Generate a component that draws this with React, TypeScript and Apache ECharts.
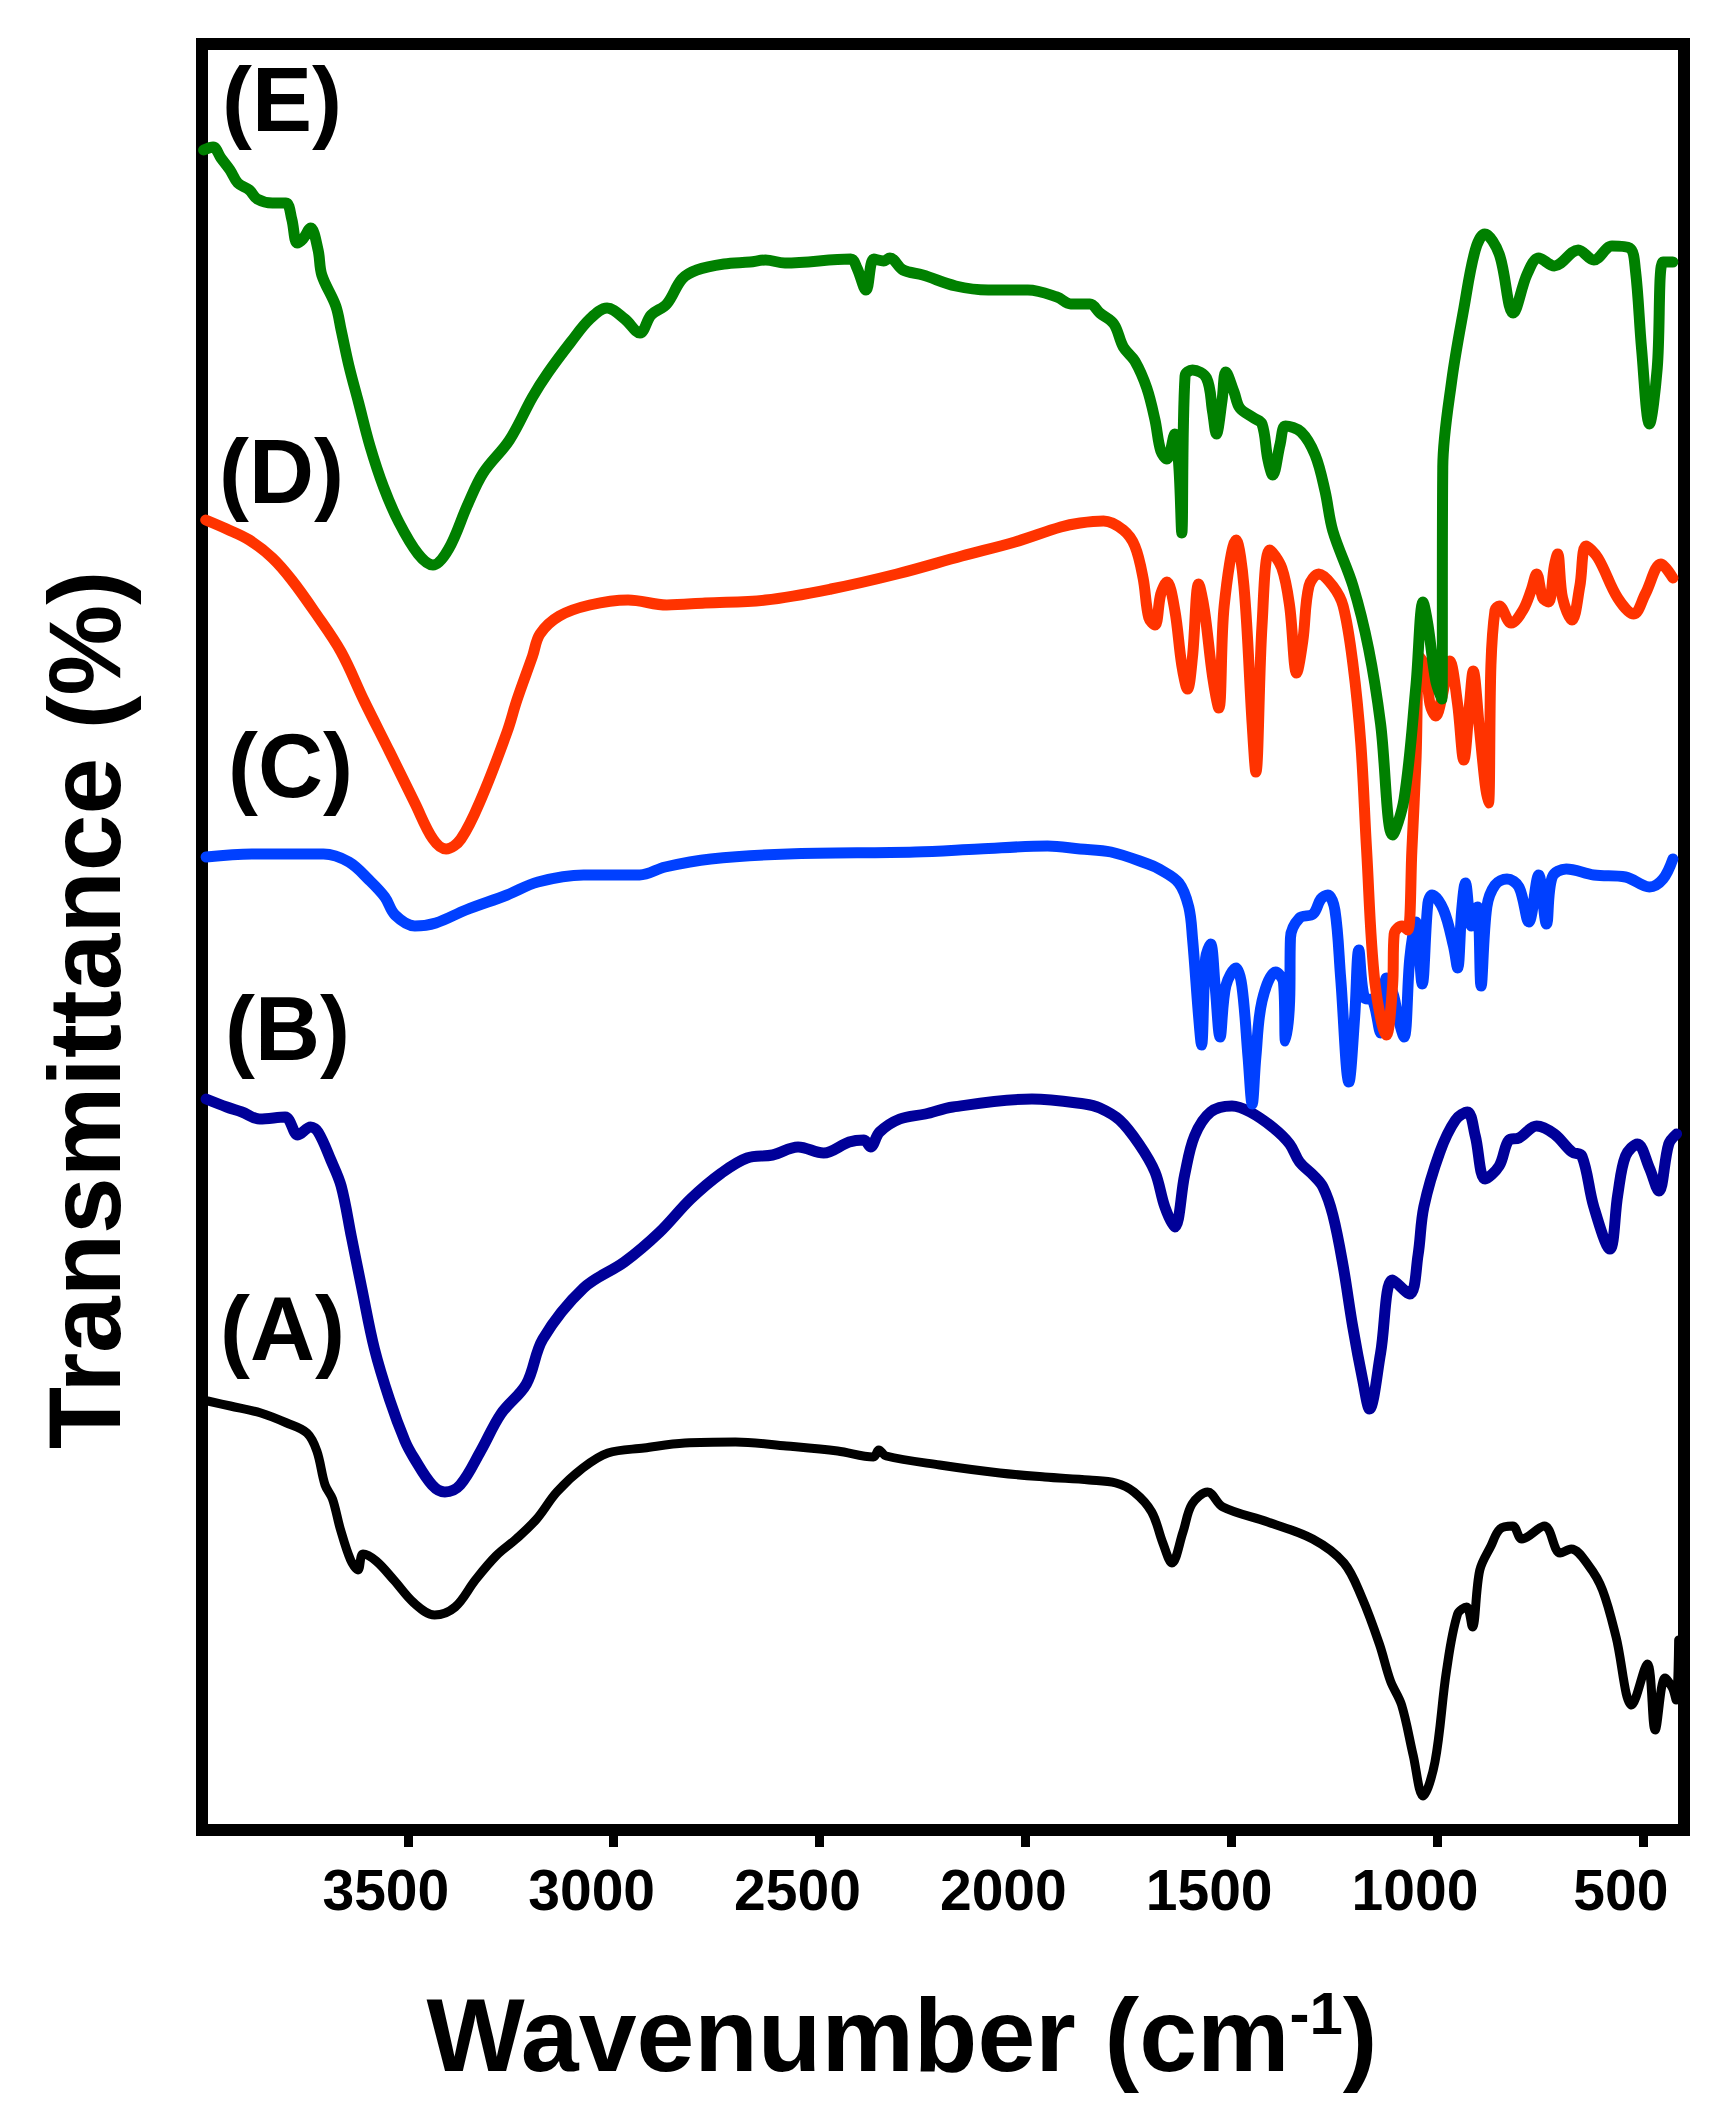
import React, { useEffect, useRef } from "react";
import * as echarts from "echarts";

// Wavenumber axis ticks (cm-1)
const X_TICKS = [3500, 3000, 2500, 2000, 1500, 1000, 500];
const CURVE_LABELS = ["(A)", "(B)", "(C)", "(D)", "(E)"];

// [wavenumber, transmittance (a.u., stacked offset)]
const SPEC_A: [number, number][] = [
  [3986, 429], [3931, 424], [3857, 417], [3794, 407], [3745, 397], [3721, 379], [3701, 345],
  [3683, 331], [3664, 301], [3639, 270], [3621, 260], [3609, 276], [3577, 269], [3534, 250],
  [3485, 227], [3435, 215], [3385, 223], [3336, 250], [3286, 274], [3237, 291], [3187, 311],
  [3138, 338], [3075, 362], [3014, 377], [2926, 382], [2827, 387], [2704, 388], [2580, 384],
  [2456, 379], [2369, 373], [2356, 380], [2338, 374], [2208, 365], [2062, 357], [1953, 353],
  [1845, 350], [1780, 347], [1736, 338], [1693, 318], [1666, 287], [1644, 267], [1617, 298],
  [1595, 326], [1557, 338], [1520, 323], [1411, 308], [1302, 291], [1226, 267], [1183, 233],
  [1140, 186], [1113, 149], [1086, 125], [1058, 75], [1034, 34], [1005, 68], [977, 159],
  [950, 216], [928, 223], [914, 203], [896, 260], [869, 284], [847, 301], [816, 304], [794, 291],
  [739, 304], [701, 277], [674, 281], [631, 264], [598, 240], [565, 193], [527, 125], [489, 166],
  [470, 100], [446, 152], [428, 142], [419, 130], [413, 190],
];

const SPEC_B: [number, number][] = [
  [3990, 731], [3940, 723], [3903, 718], [3860, 711], [3798, 713], [3767, 695], [3736, 703],
  [3718, 698], [3687, 670], [3662, 644], [3637, 593], [3612, 542], [3581, 481], [3544, 430],
  [3507, 389], [3485, 372], [3441, 345], [3410, 338], [3373, 345], [3323, 379], [3274, 416],
  [3212, 446], [3172, 491], [3073, 542], [2974, 568], [2888, 598], [2813, 631], [2738, 657],
  [2676, 672], [2614, 675], [2552, 683], [2490, 677], [2428, 688], [2392, 690], [2376, 683],
  [2354, 698], [2305, 711], [2243, 716], [2176, 723], [1984, 731], [1856, 726], [1819, 722],
  [1771, 710], [1724, 686], [1685, 658], [1661, 623], [1637, 603], [1613, 655], [1589, 694],
  [1550, 718], [1498, 724], [1454, 718], [1397, 702], [1358, 686], [1334, 668], [1301, 655],
  [1277, 643], [1253, 615], [1228, 564], [1205, 504], [1180, 449], [1164, 421], [1137, 477],
  [1108, 550], [1066, 536], [1046, 575], [1032, 623], [993, 678], [955, 710], [926, 718],
  [907, 694], [883, 651], [849, 664], [825, 690], [801, 692], [758, 704], [715, 696], [672, 678],
  [648, 674], [619, 623], [580, 581], [561, 635], [542, 674], [513, 686], [484, 662], [461, 639],
  [437, 686], [418, 696],
];

const SPEC_C: [number, number][] = [
  [3990, 973], [3879, 976], [3705, 976], [3643, 968], [3594, 950], [3556, 933], [3531, 915],
  [3483, 904], [3432, 907], [3359, 920], [3259, 935], [3184, 948], [3073, 955], [2937, 955],
  [2875, 963], [2764, 971], [2577, 976], [2268, 978], [2113, 981], [1946, 984], [1867, 981],
  [1792, 978], [1702, 966], [1675, 961], [1627, 947], [1603, 923], [1594, 892], [1579, 813],
  [1572, 785], [1562, 872], [1550, 886], [1539, 844], [1527, 793], [1513, 844], [1488, 862],
  [1474, 844], [1459, 773], [1449, 726], [1440, 773], [1425, 829], [1392, 858], [1373, 848],
  [1368, 789], [1358, 829], [1356, 892], [1334, 912], [1301, 916], [1282, 931], [1265, 935],
  [1248, 920], [1234, 852], [1214, 748], [1200, 813], [1190, 880], [1176, 832], [1157, 830],
  [1137, 797], [1123, 852], [1105, 834], [1095, 813], [1080, 793], [1066, 872], [1051, 908],
  [1036, 846], [1022, 927], [1012, 935], [984, 920], [960, 884], [950, 862], [940, 920],
  [931, 947], [916, 904], [902, 923], [893, 844], [879, 923], [859, 945], [830, 951], [801, 943],
  [777, 908], [753, 955], [734, 906], [720, 953], [686, 961], [619, 955], [542, 953], [484, 943],
  [451, 951], [427, 971],
];

const SPEC_D: [number, number][] = [
  [3991, 1310], [3940, 1301], [3885, 1290], [3829, 1272], [3782, 1250], [3726, 1218],
  [3662, 1178], [3606, 1129], [3544, 1078], [3483, 1027], [3439, 991], [3407, 981], [3371, 991],
  [3321, 1032], [3259, 1098], [3235, 1130], [3197, 1174], [3179, 1196], [3132, 1214],
  [3058, 1225], [2965, 1230], [2871, 1225], [2778, 1227], [2631, 1230], [2472, 1241],
  [2312, 1256], [2154, 1274], [2025, 1288], [1914, 1303], [1867, 1307], [1810, 1309],
  [1762, 1300], [1734, 1284], [1714, 1252], [1700, 1212], [1685, 1205], [1671, 1236],
  [1656, 1248], [1637, 1220], [1620, 1165], [1606, 1141], [1594, 1173], [1579, 1246],
  [1565, 1220], [1545, 1153], [1530, 1122], [1517, 1224], [1488, 1290], [1469, 1244],
  [1449, 1106], [1440, 1058], [1425, 1205], [1406, 1280], [1377, 1262], [1358, 1224],
  [1341, 1157], [1326, 1189], [1311, 1244], [1287, 1256], [1253, 1244], [1228, 1224],
  [1204, 1165], [1185, 1086], [1171, 980], [1151, 848], [1123, 795], [1108, 844], [1104, 896],
  [1085, 904], [1071, 900], [1061, 980], [1051, 1070], [1042, 1173], [1027, 1161], [1017, 1126],
  [1003, 1114], [988, 1133], [969, 1169], [950, 1126], [935, 1070], [921, 1126], [912, 1159],
  [898, 1106], [883, 1046], [875, 1027], [869, 1165], [859, 1220], [849, 1224], [820, 1207],
  [791, 1220], [771, 1240], [758, 1256], [743, 1232], [729, 1228], [715, 1264], [707, 1276],
  [695, 1232], [672, 1210], [653, 1244], [638, 1284], [609, 1272], [561, 1232], [522, 1216],
  [494, 1236], [456, 1266], [427, 1252],
];

const SPEC_E: [number, number][] = [
  [3996, 1680], [3973, 1683], [3954, 1672], [3932, 1660], [3913, 1647], [3885, 1640],
  [3866, 1631], [3829, 1627], [3796, 1627], [3782, 1611], [3769, 1587], [3755, 1591],
  [3736, 1602], [3718, 1580], [3709, 1555], [3675, 1524], [3662, 1500], [3643, 1464],
  [3620, 1428], [3592, 1384], [3559, 1343], [3522, 1308], [3475, 1276], [3439, 1265],
  [3401, 1281], [3355, 1325], [3317, 1357], [3253, 1390], [3197, 1433], [3160, 1457],
  [3104, 1488], [3058, 1511], [3016, 1522], [2973, 1511], [2936, 1497], [2909, 1515],
  [2871, 1526], [2834, 1551], [2798, 1560], [2732, 1566], [2669, 1568], [2631, 1570],
  [2584, 1567], [2424, 1571], [2409, 1562], [2387, 1540], [2368, 1571], [2344, 1569],
  [2329, 1572], [2297, 1560], [2249, 1555], [2169, 1544], [2090, 1540], [1994, 1540],
  [1923, 1533], [1890, 1526], [1843, 1526], [1819, 1517], [1785, 1506], [1762, 1483],
  [1734, 1469], [1705, 1442], [1685, 1410], [1671, 1379], [1656, 1371], [1637, 1396],
  [1627, 1363], [1620, 1297], [1612, 1454], [1594, 1460], [1560, 1452], [1545, 1418],
  [1536, 1396], [1522, 1430], [1513, 1458], [1493, 1438], [1479, 1422], [1445, 1412],
  [1425, 1406], [1411, 1371], [1399, 1355], [1381, 1386], [1368, 1404], [1330, 1398],
  [1296, 1375], [1272, 1339], [1253, 1299], [1204, 1244], [1166, 1181], [1137, 1106],
  [1108, 995], [1080, 1031], [1051, 1145], [1034, 1228], [1022, 1205], [1003, 1149],
  [988, 1131], [986, 1363], [964, 1450], [935, 1521], [907, 1580], [884, 1596], [849, 1576],
  [815, 1517], [781, 1556], [753, 1572], [715, 1564], [657, 1580], [619, 1570], [575, 1584],
  [532, 1582], [518, 1560], [503, 1481], [484, 1406], [465, 1462], [451, 1568], [427, 1568],
];

const FONT = '"Liberation Sans", Arial, Helvetica, sans-serif';

export default function App() {
  const ref = useRef<HTMLDivElement>(null);

  useEffect(() => {
    if (!ref.current) return;
    const chart = echarts.init(ref.current, null, { renderer: "svg" });

    const mk = (name: string, data: [number, number][], color: string, width: number, z: number) => ({
      type: "line",
      name,
      data,
      symbol: "none",
      showSymbol: false,
      smooth: 0.35,
      z,
      lineStyle: { color, width, cap: "round", join: "round" },
      emphasis: { disabled: true },
    });

    const labelPos = [
      { x: 212, y: 1321 },
      { x: 217, y: 1021 },
      { x: 220, y: 758 },
      { x: 211, y: 464 },
      { x: 214, y: 92 },
    ];

    chart.setOption({
      animation: false,
      backgroundColor: "#fff",
      grid: {
        left: 194,
        top: 36,
        right: 36,
        bottom: 283,
        show: true,
        borderColor: "#000",
        borderWidth: 12,
        backgroundColor: "transparent",
        containLabel: false,
      },
      xAxis: {
        type: "value",
        min: 400,
        max: 4000,
        inverse: true,
        axisLine: { show: true, lineStyle: { color: "#000", width: 12 } },
        axisTick: {
          show: true,
          customValues: X_TICKS,
          length: 17,
          lineStyle: { color: "#000", width: 9 },
        },
        axisLabel: {
          show: true,
          customValues: X_TICKS,
          formatter: (v: number) => String(v),
          margin: 31,
          color: "#000",
          fontSize: 57,
          fontWeight: "bold",
          fontFamily: FONT,
          padding: [0, 44, 0, 0],
        },
        splitLine: { show: false },
      },
      yAxis: {
        type: "value",
        min: 0,
        max: 1786,
        show: false,
        splitLine: { show: false },
      },
      series: [
        mk("A", SPEC_A, "#000000", 9, 2),
        mk("B", SPEC_B, "#000099", 11, 3),
        mk("C", SPEC_C, "#0040ff", 11, 4),
        mk("D", SPEC_D, "#ff3300", 11, 5),
        mk("E", SPEC_E, "#008000", 11, 6),
      ],
      graphic: [
        ...CURVE_LABELS.map((t, i) => ({
          type: "text",
          x: labelPos[i].x,
          y: labelPos[i].y,
          z: 10,
          style: {
            text: t,
            fontSize: 90,
            fontWeight: "bold",
            fontFamily: FONT,
            fill: "#000",
            textAlign: "left",
            textVerticalAlign: "middle",
          },
        })),
        {
          type: "text",
          x: 894,
          y: 2027,
          z: 10,
          style: {
            text: "{a|Wavenumber (cm}{s|-1}{a|)}",
            fontFamily: FONT,
            fill: "#000",
            textAlign: "center",
            textVerticalAlign: "middle",
            rich: {
              a: { fontSize: 104, fontWeight: "bold", fontFamily: FONT, fill: "#000", verticalAlign: "bottom" },
              s: { fontSize: 60, fontWeight: "bold", fontFamily: FONT, fill: "#000", verticalAlign: "top" },
            },
          },
        },
        {
          type: "text",
          x: 77,
          y: 1002,
          rotation: Math.PI / 2,
          z: 10,
          style: {
            text: "Transmittance (%)",
            fontSize: 102,
            fontWeight: "bold",
            fontFamily: FONT,
            fill: "#000",
            textAlign: "center",
            textVerticalAlign: "middle",
          },
        },
      ],
    });

    return () => chart.dispose();
  }, []);

  return <div ref={ref} style={{ width: 1712, height: 2105 }} />;
}
